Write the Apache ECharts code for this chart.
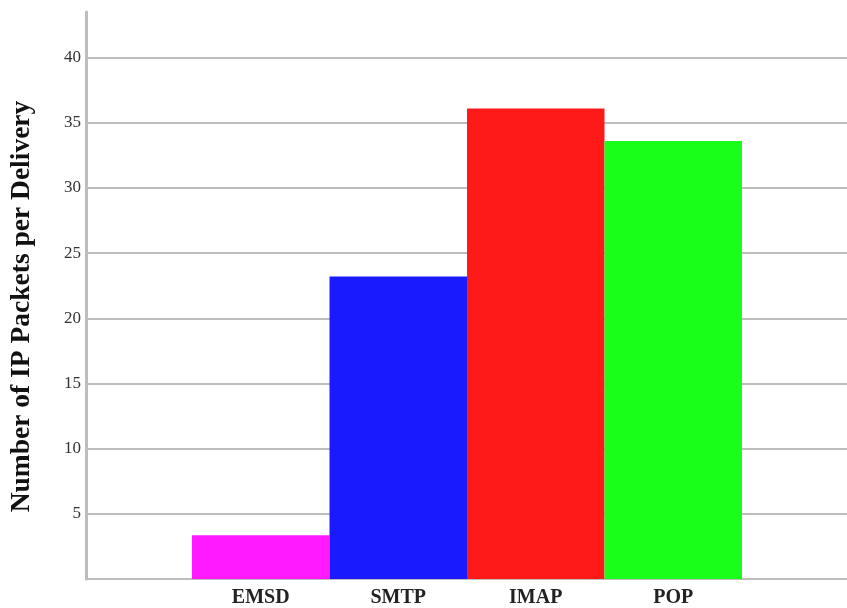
<!DOCTYPE html>
<html>
<head>
<meta charset="utf-8">
<script src="https://cdn.jsdelivr.net/npm/echarts@6/dist/echarts.min.js"></script>
<style>
html,body{margin:0;padding:0;background:#fff;}
#chart{width:847px;height:608px;}
</style>
</head>
<body>
<div id="chart"></div>
<script>
var categories = ['EMSD', 'SMTP', 'IMAP', 'POP'];
var packets = [3.35, 23.2, 36.1, 33.6];
var barColors = ['#ff1aff', '#1a1aff', '#ff1a1a', '#1aff1a'];
var yTitle = 'Number of IP Packets per Delivery';

var chart = echarts.init(document.getElementById('chart'), null, {renderer: 'canvas'});
var serif = '"Liberation Serif", "DejaVu Serif", serif';
var gridColor = '#bdbdbd';

chart.setOption({
  backgroundColor: '#ffffff',
  animation: false,
  grid: [
    {left: 86, right: 0, top: 12, bottom: 29, containLabel: false, outerBoundsMode: 'none'},
    {left: 192, right: 105, top: 12, bottom: 29, containLabel: false, outerBoundsMode: 'none'}
  ],
  xAxis: [
    {
      gridIndex: 0, type: 'value', min: 0, max: 1,
      axisLine: {show: true, lineStyle: {color: gridColor, width: 2}},
      axisTick: {show: false}, axisLabel: {show: false}, splitLine: {show: false}
    },
    {
      gridIndex: 1, type: 'category', data: categories,
      axisLine: {show: false}, axisTick: {show: false},
      axisLabel: {fontFamily: serif, fontWeight: 'bold', fontSize: 20, color: '#222', margin: 9}
    }
  ],
  yAxis: [
    {
      gridIndex: 0, type: 'value', min: 0, max: 43.5, interval: 5,
      name: yTitle, nameLocation: 'middle', nameGap: 50,
      nameTextStyle: {fontFamily: serif, fontWeight: 'bold', fontSize: 27.5, color: '#111', padding: [0, 22, 0, 0]},
      axisLine: {show: true, lineStyle: {color: gridColor, width: 3}},
      axisTick: {show: false},
      axisLabel: {
        fontFamily: serif, fontSize: 17, color: '#333', margin: 5,
        showMinLabel: false, showMaxLabel: false,
        formatter: function (v) { return (v % 5 === 0 && v > 0) ? String(v) : ''; }
      },
      splitLine: {show: true, showMaxLine: false, lineStyle: {color: gridColor, width: 2}}
    },
    {
      gridIndex: 1, type: 'value', min: 0, max: 43.5, show: false
    }
  ],
  series: [{
    type: 'bar',
    xAxisIndex: 1, yAxisIndex: 1,
    barWidth: '100%',
    data: packets.map(function (v, i) { return {value: v, itemStyle: {color: barColors[i]}}; })
  }]
});
</script>
</body>
</html>
